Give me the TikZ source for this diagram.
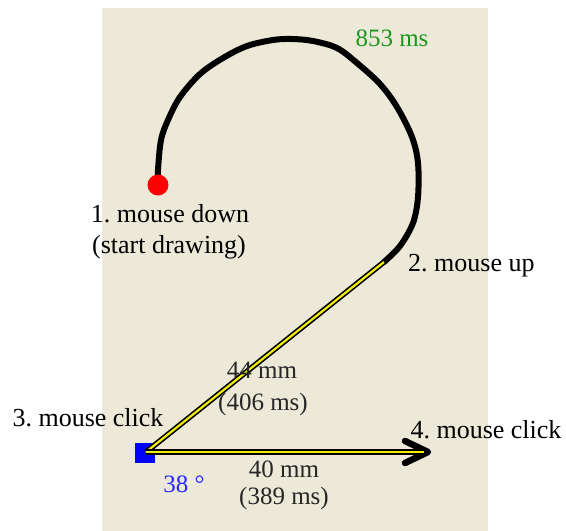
\documentclass[tikz,border=0pt]{standalone}
\usepackage{fontspec}
\setmainfont{Liberation Serif}
\definecolor{xpbeige}{HTML}{ECE9D8}
\definecolor{msgreen}{RGB}{30,150,30}
\definecolor{msblue}{RGB}{40,40,255}
\definecolor{lineyellow}{RGB}{240,240,0}
\frenchspacing
\begin{document}
\begin{tikzpicture}[x=1pt,y=-1pt,
  lbl/.style={font=\fontsize{26}{30}\selectfont, inner sep=0pt, anchor=base},
  meas/.style={font=\fontsize{25}{29}\selectfont, inner sep=0pt, anchor=base, text=black!85},
  stroke/.style={line width=6pt, line cap=round, line join=round},
  outline/.style={draw=black, line width=5.5pt},
  inner/.style={draw=lineyellow, line width=2.2pt},
  chevron/.style={draw=black, line width=6.5pt, line cap=round, line join=round}]
\useasboundingbox (0,0) rectangle (566,531);
\fill[white] (0,0) rectangle (566,531);
\fill[xpbeige] (102,8) rectangle (488,531);

\coordinate (startpt) at (158,185);
\coordinate (up) at (384,262);
\coordinate (clickpt) at (146,452);
\coordinate (tip) at (428,452);
\coordinate (yend) at (424,452);

% freehand stroke
\draw[stroke] plot[smooth, tension=0.55] coordinates {
  (startpt) (158,170) (161,140) (168,120) (180,97) (200,74) (223,58)
  (247,46) (273,40) (292,39) (313,41) (337,48) (357,63) (380,84)
  (397,107) (412,137) (418,163) (418,197) (413,223) (400,246) (up)};

% blue square
\node[fill=blue, minimum size=20pt, inner sep=0pt] (click) at (145,453) {};

% segment 2 -> 3
\draw[outline] (up) -- (clickpt);
\draw[inner] (up) -- (clickpt);

% segment 3 -> 4 with arrow head
\draw[outline] (clickpt) -- (tip);
\draw[chevron] (tip) ++(-23,-11) -- (tip) -- ++(-23,11);
\draw[inner] (clickpt) -- (yend);

% red dot
\node[circle, fill=red, minimum size=21pt, inner sep=0pt] (start) at (startpt) {};

% labels
\node[lbl] (l1) at (170,222) {1. mouse down};
\node[lbl] (l1b) at (169,253) {(start drawing)};
\node[lbl, anchor=base west] (l2) at (408,271) {2. mouse up};
\node[lbl] (l3) at (88,426) {3. mouse click};
\node[lbl] (l4) at (486,438) {4. mouse click};

\node[meas] (m1) at (262,378) {44 mm};
\node[meas] (m1b) at (263,410) {(406 ms)};
\node[meas] (m2) at (284,477) {40 mm};
\node[meas] (m2b) at (284,504) {(389 ms)};

\node[lbl, text=msgreen, font=\fontsize{25}{29}\selectfont] (t) at (392,46) {853 ms};
\node[lbl, text=msblue, font=\fontsize{25}{29}\selectfont] (ang) at (184,492) {38 °};
\end{tikzpicture}
\end{document}
